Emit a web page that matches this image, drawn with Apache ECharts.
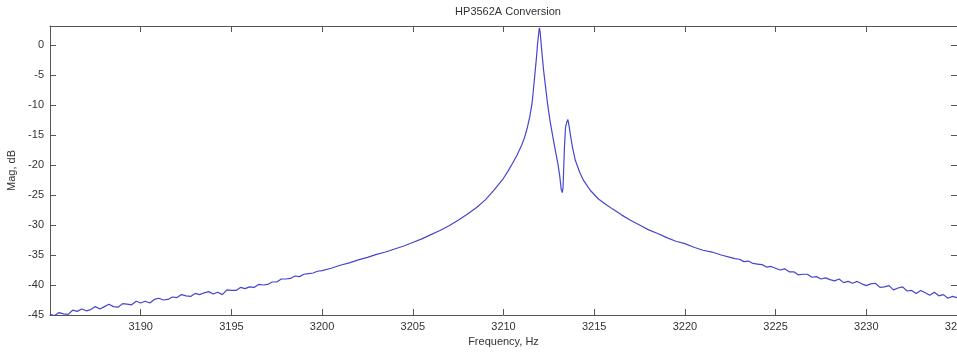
<!DOCTYPE html>
<html>
<head>
<meta charset="utf-8">
<script src="https://cdn.jsdelivr.net/npm/echarts@6/dist/echarts.min.js"></script>
<style>
  html, body { margin: 0; padding: 0; background: #fff; }
  #chart { width: 957px; height: 352px; }
</style>
</head>
<body>
<div id="chart"></div>
<script>
// 低频尾段（噪声较明显）
const lowFreq = [
    3185.00, 3185.25, 3185.50, 3185.75, 3186.00, 3186.25, 3186.50, 3186.75,
    3187.00, 3187.25, 3187.50, 3187.75, 3188.00, 3188.25, 3188.50, 3188.75,
    3189.00, 3189.25, 3189.50, 3189.75, 3190.00, 3190.25, 3190.50, 3190.75,
    3191.00, 3191.25, 3191.50, 3191.75, 3192.00, 3192.25, 3192.50, 3192.75,
    3193.00, 3193.25, 3193.50, 3193.75, 3194.00, 3194.25, 3194.50, 3194.75,
    3195.00, 3195.25, 3195.50, 3195.75, 3196.00, 3196.25, 3196.50, 3196.75,
    3197.00, 3197.25, 3197.50, 3197.75, 3198.00, 3198.25, 3198.50, 3198.75,
    3199.00, 3199.25, 3199.50, 3199.75, 3200.00,
    3200.50, 3201.00, 3201.50, 3202.00, 3202.50, 3203.00, 3203.50, 3204.00,
    3204.50, 3205.00, 3205.50, 3206.00, 3206.50, 3207.00, 3207.50, 3208.00,
    3208.50, 3209.00, 3209.50
];
const lowMag = [
    -44.9, -45.1, -44.6, -44.8, -44.9, -44.2, -44.4, -44.0,
    -44.3, -44.1, -43.6, -44.0, -43.6, -43.2, -43.6, -43.7,
    -43.1, -43.2, -43.3, -42.7, -43.0, -42.7, -43.0, -42.4,
    -42.2, -42.5, -42.4, -42.0, -42.1, -41.6, -41.8, -41.9,
    -41.4, -41.6, -41.3, -41.1, -41.5, -41.2, -41.6, -40.8,
    -40.9, -40.9, -40.4, -40.6, -40.3, -40.4, -39.9, -40.0,
    -39.9, -39.5, -39.5, -39.0, -39.0, -38.9, -38.5, -38.6,
    -38.2, -38.1, -38.0, -37.7, -37.6,
    -37.2, -36.7, -36.3, -35.8, -35.4, -34.9, -34.5, -34.0,
    -33.5, -32.9, -32.3, -31.6, -30.9, -30.1, -29.2, -28.2,
    -27.1, -25.8, -24.1
];

// 主峰与次峰
const peakFreq = [
    3210.00, 3210.25, 3210.50, 3210.75, 3211.00, 3211.15, 3211.30, 3211.45,
    3211.57, 3211.65, 3211.75, 3211.82, 3211.88, 3211.94, 3211.98, 3212.02,
    3212.06, 3212.13, 3212.21, 3212.32, 3212.43, 3212.57, 3212.72, 3212.86,
    3213.00, 3213.10, 3213.18, 3213.24, 3213.28, 3213.32, 3213.36, 3213.42,
    3213.48, 3213.55, 3213.60, 3213.68, 3213.80, 3213.96, 3214.20, 3214.42,
    3214.78, 3215.25, 3215.71
];
const peakMag = [
    -22.2, -21.0, -19.7, -18.3, -16.7, -15.5, -13.9, -11.9,
    -9.8, -7.4, -4.2, -2.0, 0.3, 2.0, 2.9, 2.2,
    0.8, -1.6, -4.2, -7.0, -9.8, -12.7, -15.3, -17.6,
    -19.8, -21.8, -24.0, -24.6, -23.8, -20.5, -17.0, -13.7,
    -12.9, -12.4, -13.2, -14.8, -17.0, -19.2, -21.2, -22.6,
    -24.2, -25.7, -26.7
];

// 高频尾段
const highFreq = [
    3216.00, 3216.50, 3217.00, 3217.50, 3218.00, 3218.50, 3219.00, 3219.50,
    3220.00, 3220.50, 3221.00, 3221.50, 3222.00, 3222.50,
    3222.75, 3223.00, 3223.25, 3223.50, 3223.75, 3224.00, 3224.25, 3224.50,
    3224.75, 3225.00, 3225.25, 3225.50, 3225.75, 3226.00, 3226.25, 3226.50,
    3226.75, 3227.00, 3227.25, 3227.50, 3227.75, 3228.00, 3228.25, 3228.50,
    3228.75, 3229.00, 3229.25, 3229.50, 3229.75, 3230.00, 3230.25, 3230.50,
    3230.75, 3231.00, 3231.25, 3231.50, 3231.75, 3232.00, 3232.25, 3232.50,
    3232.75, 3233.00, 3233.25, 3233.50, 3233.75, 3234.00, 3234.25, 3234.50,
    3234.75, 3235.00
];
const highMag = [
    -27.3, -28.3, -29.2, -30.0, -30.8, -31.4, -32.1, -32.7,
    -33.1, -33.7, -34.2, -34.5, -35.0, -35.4,
    -35.6, -35.7, -36.1, -36.0, -36.4, -36.5, -36.6, -37.0,
    -36.9, -37.2, -37.5, -37.3, -37.8, -37.8, -38.3, -38.2,
    -38.2, -38.7, -38.6, -39.0, -38.8, -39.1, -39.3, -39.0,
    -39.6, -39.4, -39.7, -39.4, -39.8, -40.1, -39.8, -39.7,
    -40.4, -40.3, -40.1, -40.8, -40.5, -40.3, -41.0, -40.9,
    -41.4, -40.9, -41.3, -41.7, -41.2, -41.8, -41.6, -42.2,
    -41.9, -42.1
];

const freqHz = lowFreq.concat(peakFreq, highFreq);
const magDb = lowMag.concat(peakMag, highMag);
const curve = freqHz.map((f, i) => [f, magDb[i]]);

const chart = echarts.init(document.getElementById('chart'));

const axisColor = '#555';
const fontFamily = 'Liberation Sans, Arial, sans-serif';
const labelFont = { color: '#333', fontSize: 11, fontFamily: fontFamily };
const tickIn = { show: true, inside: true, length: 6, lineStyle: { color: axisColor } };
const axisLine = { show: true, onZero: false, lineStyle: { color: axisColor, width: 1 } };

const option = {
    backgroundColor: '#fff',
    animation: false,
    title: {
        text: 'HP3562A Conversion',
        left: 503,
        textAlign: 'center',
        top: 1,
        textStyle: { color: '#333', fontSize: 11, fontWeight: 'normal', fontFamily: fontFamily }
    },
    grid: { left: 50, right: 0, top: 26, bottom: 37, containLabel: false, outerBoundsMode: 'none' },
    xAxis: [{
        type: 'value',
        min: 3185,
        max: 3235,
        interval: 5,
        name: 'Frequency, Hz',
        nameLocation: 'middle',
        nameGap: 21,
        nameTextStyle: labelFont,
        axisLine: axisLine,
        axisTick: tickIn,
        axisLabel: Object.assign({ margin: 6, showMinLabel: false, formatter: v => String(v) }, labelFont),
        splitLine: { show: false }
    }, {
        type: 'value',
        position: 'top',
        min: 3185,
        max: 3235,
        interval: 5,
        axisLine: axisLine,
        axisTick: tickIn,
        axisLabel: { show: false },
        splitLine: { show: false }
    }],
    yAxis: [{
        type: 'value',
        min: -45,
        max: 3.2,
        interval: 5,
        name: 'Mag, dB',
        nameLocation: 'middle',
        nameGap: 31,
        nameTextStyle: labelFont,
        axisLine: axisLine,
        axisTick: tickIn,
        axisLabel: Object.assign({ margin: 6, showMaxLabel: false }, labelFont),
        splitLine: { show: false }
    }, {
        type: 'value',
        position: 'right',
        min: -45,
        max: 3.2,
        interval: 5,
        axisLine: axisLine,
        axisTick: tickIn,
        axisLabel: { show: false },
        splitLine: { show: false }
    }],
    series: [{
        type: 'line',
        xAxisIndex: 0,
        yAxisIndex: 0,
        data: curve,
        showSymbol: false,
        smooth: false,
        lineStyle: { color: '#4646cc', width: 1.2 },
        clip: true
    }]
};

chart.setOption(option);
</script>
</body>
</html>
